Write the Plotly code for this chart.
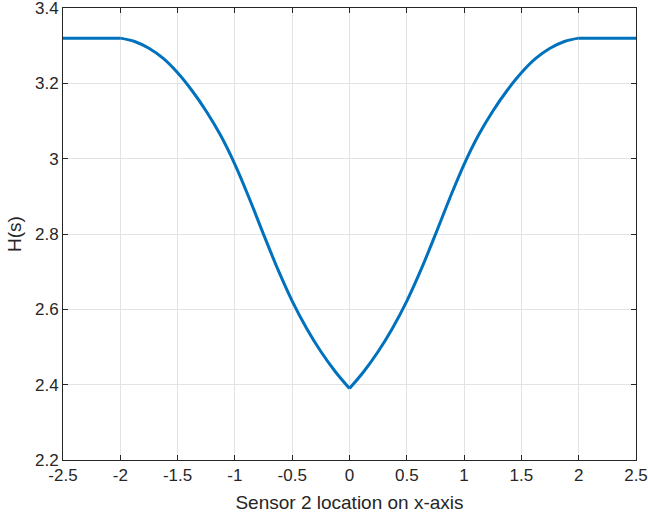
import plotly.graph_objects as go

# Sensor 2 position along the x-axis and the resulting H(s)
sensor_x = [-2.5, -2.25, -2.0, -1.875, -1.75, -1.625, -1.5, -1.375, -1.25, -1.125,
            -1.0, -0.875, -0.75, -0.625, -0.5, -0.375, -0.25, -0.125, 0.0,
            0.125, 0.25, 0.375, 0.5, 0.625, 0.75, 0.875, 1.0, 1.125, 1.25,
            1.375, 1.5, 1.625, 1.75, 1.875, 2.0, 2.25, 2.5]
h_values = [3.320, 3.320, 3.320, 3.311, 3.293, 3.266, 3.228, 3.181, 3.126, 3.062,
            2.985, 2.895, 2.799, 2.706, 2.622, 2.550, 2.488, 2.435, 2.390,
            2.435, 2.488, 2.550, 2.622, 2.706, 2.799, 2.895, 2.985, 3.062, 3.126,
            3.181, 3.228, 3.266, 3.293, 3.311, 3.320, 3.320, 3.320]

x_ticks = [-2.5, -2, -1.5, -1, -0.5, 0, 0.5, 1, 1.5, 2, 2.5]
x_tick_text = ["-2.5", "-2", "-1.5", "-1", "-0.5", "0", "0.5", "1", "1.5", "2", "2.5"]
y_ticks = [2.2, 2.4, 2.6, 2.8, 3.0, 3.2, 3.4]
y_tick_text = ["2.2", "2.4", "2.6", "2.8", "3", "3.2", "3.4"]

LINE_COLOR = "#0072BD"
AXIS_COLOR = "#262626"
FONT = "Liberation Sans, Arial, Helvetica, sans-serif"

# piecewise: flat plateaus outside |x| = 2 and a cusp at x = 0,
# so each piece is smoothed on its own
breaks = [sensor_x.index(-2.0), sensor_x.index(0.0), sensor_x.index(2.0)]
bounds = [0] + breaks + [len(sensor_x) - 1]

fig = go.Figure()
for i0, i1 in zip(bounds[:-1], bounds[1:]):
    fig.add_trace(go.Scatter(
        x=sensor_x[i0:i1 + 1], y=h_values[i0:i1 + 1], mode="lines",
        line=dict(color=LINE_COLOR, width=3, shape="spline", smoothing=1.0),
        showlegend=False, hoverinfo="x+y",
    ))

axis_common = dict(
    showline=True, linecolor=AXIS_COLOR, linewidth=1, mirror="ticks",
    ticks="inside", ticklen=5, tickwidth=1, tickcolor=AXIS_COLOR,
    showgrid=True, gridcolor="#e3e3e3", gridwidth=1, zeroline=False,
    automargin=False, ticklabeloverflow="allow",
    tickfont=dict(family=FONT, size=17, color=AXIS_COLOR),
)

fig.update_xaxes(
    range=[-2.5, 2.5], tickvals=x_ticks, ticktext=x_tick_text,
    title=dict(text="Sensor 2 location on x-axis", standoff=11,
               font=dict(family=FONT, size=19, color=AXIS_COLOR)),
    **axis_common,
)
fig.update_yaxes(
    range=[2.2, 3.4], tickvals=y_ticks, ticktext=y_tick_text,
    title=dict(text="H(s)", standoff=8,
               font=dict(family=FONT, size=19, color=AXIS_COLOR)),
    **axis_common,
)

fig.update_layout(
    width=648, height=522,
    margin=dict(l=63, r=12, t=8, b=62),
    paper_bgcolor="white", plot_bgcolor="white",
    font=dict(family=FONT, color=AXIS_COLOR),
)

fig.write_html("out.html")
